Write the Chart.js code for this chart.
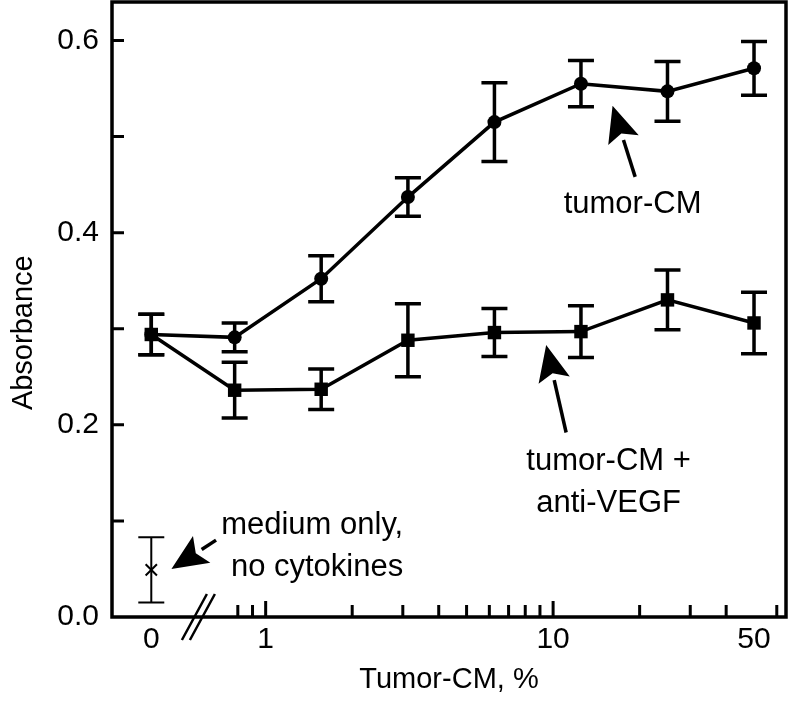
<!DOCTYPE html>
<html>
<head>
<meta charset="utf-8">
<script src="https://cdn.jsdelivr.net/npm/chart.js@4.4.1/dist/chart.umd.min.js"></script>
<style>
  html, body { margin: 0; padding: 0; background: #fff; }
</style>
</head>
<body>
<canvas id="grafico" width="796" height="707"></canvas>
<script>
// Datos (concentracion de tumor-CM en %)
var concentraciones = [0, 0.78, 1.56, 3.125, 6.25, 12.5, 25, 50];
var tumorCM = [0.294, 0.291, 0.352, 0.437, 0.515, 0.555, 0.547, 0.571];
var tumorCMErr = [0.021, 0.015, 0.024, 0.020, 0.041, 0.024, 0.031, 0.028];
var antiVEGF = [0.294, 0.236, 0.237, 0.288, 0.296, 0.297, 0.330, 0.306];
var antiVEGFErr = [0.021, 0.029, 0.021, 0.038, 0.025, 0.027, 0.031, 0.032];
var soloMedio = [0.049];
var soloMedioErr = [0.034];

var etiquetasX = { '0': '0', '1': '1', '10': '10', '50': '50' };
var marcasMenoresX = [0.8, 0.9, 2, 3, 4, 5, 6, 7, 8, 9, 20, 30, 40, 60];
var marcasMayoresX = [1, 10];
var marcasY = [0.1, 0.2, 0.3, 0.4, 0.5, 0.6];
var etiquetasY = [0, 0.2, 0.4, 0.6];

var POS_CERO = 0.4;   // donde se dibuja el "0" del eje log
var POS_CORTE = 0.6;  // marca de corte //
var ARRIBA = 2;       // borde superior del area de trazado
var FUENTE = "'Liberation Sans', Arial, sans-serif";

var textos = [
  { texto: 'tumor-CM', x: 18.9, y: 0.420, alinear: 'center' },
  { texto: 'tumor-CM +', x: 15.6, y: 0.153, alinear: 'center' },
  { texto: 'anti-VEGF', x: 15.6, y: 0.109, alinear: 'center' },
  { texto: 'medium only,', x: 0.70, y: 0.086, alinear: 'left' },
  { texto: 'no cytokines', x: 0.757, y: 0.043, alinear: 'left' }
];
var flechas = [
  { desde: [19.3, 0.458], hasta: [16.1, 0.532] },
  { desde: [11.1, 0.192], hasta: [9.46, 0.283] },
  { desde: [0.672, 0.080], hasta: [0.470, 0.050] }
];

function posX(c) { return c === 0 ? POS_CERO : c; }

function puntos(valores) {
  return concentraciones.map(function (c, i) { return { x: posX(c), y: valores[i] }; });
}

function dibujarFlecha(ctx, x1, y1, x2, y2) {
  var ang = Math.atan2(y2 - y1, x2 - x1);
  var largo = 36, ancho = 16;
  var bx = x2 - largo * Math.cos(ang), by = y2 - largo * Math.sin(ang);
  ctx.beginPath();
  ctx.moveTo(x1, y1);
  ctx.lineTo(bx, by);
  ctx.stroke();
  ctx.beginPath();
  ctx.moveTo(x2, y2);
  ctx.lineTo(bx + ancho * Math.sin(ang), by - ancho * Math.cos(ang));
  ctx.lineTo(x2 - (largo - 7) * Math.cos(ang), y2 - (largo - 7) * Math.sin(ang));
  ctx.lineTo(bx - ancho * Math.sin(ang), by + ancho * Math.cos(ang));
  ctx.closePath();
  ctx.fill();
}

var pluginExtras = {
  id: 'extras',
  afterLayout: function (chart) {
    // subir el borde superior del area de trazado
    var ys = chart.scales.y, a = chart.chartArea;
    a.top = ARRIBA;
    a.height = a.bottom - a.top;
    ys.top = ARRIBA;
    ys.height = ys.bottom - ys.top;
    ys.configure();
  },
  beforeDatasetsDraw: function (chart) {
    var ctx = chart.ctx;
    var ys = chart.scales.y;
    ctx.save();
    ctx.strokeStyle = '#000';
    chart.data.datasets.forEach(function (ds, i) {
      var meta = chart.getDatasetMeta(i);
      ctx.lineWidth = ds.grosorError;
      meta.data.forEach(function (p, j) {
        var v = ds.data[j].y, e = ds.errores[j];
        var yA = ys.getPixelForValue(v + e), yB = ys.getPixelForValue(v - e);
        ctx.beginPath();
        ctx.moveTo(p.x, yA); ctx.lineTo(p.x, yB);
        ctx.moveTo(p.x - 13, yA); ctx.lineTo(p.x + 13, yA);
        ctx.moveTo(p.x - 13, yB); ctx.lineTo(p.x + 13, yB);
        ctx.stroke();
      });
    });
    ctx.restore();
  },
  afterDraw: function (chart) {
    var ctx = chart.ctx, a = chart.chartArea;
    var xs = chart.scales.x, ys = chart.scales.y;
    ctx.save();
    ctx.strokeStyle = '#000';
    ctx.fillStyle = '#000';
    ctx.lineWidth = 3.5;
    ctx.strokeRect(a.left, a.top, a.right - a.left, a.bottom - a.top);

    ctx.lineWidth = 3;
    ctx.beginPath();
    marcasMenoresX.forEach(function (v) {
      var x = xs.getPixelForValue(v);
      ctx.moveTo(x, a.bottom); ctx.lineTo(x, a.bottom - 12);
    });
    marcasMayoresX.forEach(function (v) {
      var x = xs.getPixelForValue(v);
      ctx.moveTo(x, a.bottom); ctx.lineTo(x, a.bottom - 16);
    });
    marcasY.forEach(function (v) {
      var y = ys.getPixelForValue(v);
      ctx.moveTo(a.left, y); ctx.lineTo(a.left + 12, y);
    });
    ctx.stroke();

    // corte del eje
    var xc = xs.getPixelForValue(POS_CORTE);
    ctx.lineWidth = 2.5;
    ctx.beginPath();
    ctx.moveTo(xc + 5, a.bottom - 23); ctx.lineTo(xc - 20, a.bottom + 23);
    ctx.moveTo(xc + 13, a.bottom - 23); ctx.lineTo(xc - 12, a.bottom + 23);
    ctx.stroke();

    // titulo del eje Y
    ctx.save();
    ctx.font = '29px ' + FUENTE;
    ctx.textAlign = 'center';
    ctx.textBaseline = 'middle';
    ctx.translate(24, ys.getPixelForValue(0.3) + 4);
    ctx.rotate(-Math.PI / 2);
    ctx.fillText('Absorbance', 0, 0);
    ctx.restore();

    ctx.font = '31px ' + FUENTE;
    ctx.textBaseline = 'alphabetic';
    textos.forEach(function (t) {
      ctx.textAlign = t.alinear;
      ctx.fillText(t.texto, xs.getPixelForValue(t.x), ys.getPixelForValue(t.y));
    });

    ctx.lineWidth = 3.5;
    flechas.forEach(function (f) {
      dibujarFlecha(ctx,
        xs.getPixelForValue(f.desde[0]), ys.getPixelForValue(f.desde[1]),
        xs.getPixelForValue(f.hasta[0]), ys.getPixelForValue(f.hasta[1]));
    });
    ctx.restore();
  }
};

new Chart(document.getElementById('grafico'), {
  type: 'line',
  data: {
    datasets: [
      {
        label: 'tumor-CM + anti-VEGF',
        data: puntos(antiVEGF),
        errores: antiVEGFErr,
        grosorError: 3.5,
        borderColor: '#000', backgroundColor: '#000', borderWidth: 3.5,
        pointStyle: 'rect', pointRadius: 9.5, pointBorderWidth: 0,
        tension: 0
      },
      {
        label: 'tumor-CM',
        data: puntos(tumorCM),
        errores: tumorCMErr,
        grosorError: 3.5,
        borderColor: '#000', backgroundColor: '#000', borderWidth: 3.5,
        pointStyle: 'circle', pointRadius: 7, pointBorderWidth: 0,
        tension: 0
      },
      {
        label: 'medium only, no cytokines',
        data: soloMedio.map(function (v) { return { x: POS_CERO, y: v }; }),
        errores: soloMedioErr,
        grosorError: 2,
        showLine: false,
        borderColor: '#000', backgroundColor: '#000',
        pointStyle: 'crossRot', pointRadius: 8, pointBorderWidth: 2
      }
    ]
  },
  options: {
    responsive: false,
    animation: false,
    layout: { padding: { left: 0, right: 4, top: 2, bottom: 0 } },
    plugins: { legend: { display: false }, tooltip: { enabled: false } },
    scales: {
      x: {
        type: 'logarithmic',
        min: 0.292,
        max: 64.6,
        afterBuildTicks: function (scale) {
          scale.ticks = [POS_CERO, 1, 10, 50].map(function (v) { return { value: v }; });
        },
        afterFit: function (scale) {
          scale.height = 90;
          scale.paddingLeft = 0;
          scale.paddingRight = 0;
        },
        grid: { display: false, drawTicks: false },
        border: { display: false },
        ticks: {
          autoSkip: false, maxRotation: 0, padding: 5, color: '#000',
          font: { family: FUENTE, size: 30 },
          callback: function (v) { return v === POS_CERO ? '0' : (etiquetasX[String(v)] || ''); }
        },
        title: {
          display: true, text: 'Tumor-CM, %', color: '#000',
          font: { family: FUENTE, size: 29 }, padding: { top: 0, bottom: 10 }
        }
      },
      y: {
        min: 0,
        max: 0.64,
        afterBuildTicks: function (scale) {
          scale.ticks = etiquetasY.map(function (v) { return { value: v }; });
        },
        afterFit: function (scale) {
          scale.width = 112;
          scale.paddingTop = 0;
          scale.paddingBottom = 0;
        },
        grid: { display: false, drawTicks: false },
        border: { display: false },
        ticks: {
          padding: 13, color: '#000',
          font: { family: FUENTE, size: 30 },
          callback: function (v) { return v.toFixed(1); }
        }
      }
    }
  },
  plugins: [pluginExtras]
});
</script>
</body>
</html>
